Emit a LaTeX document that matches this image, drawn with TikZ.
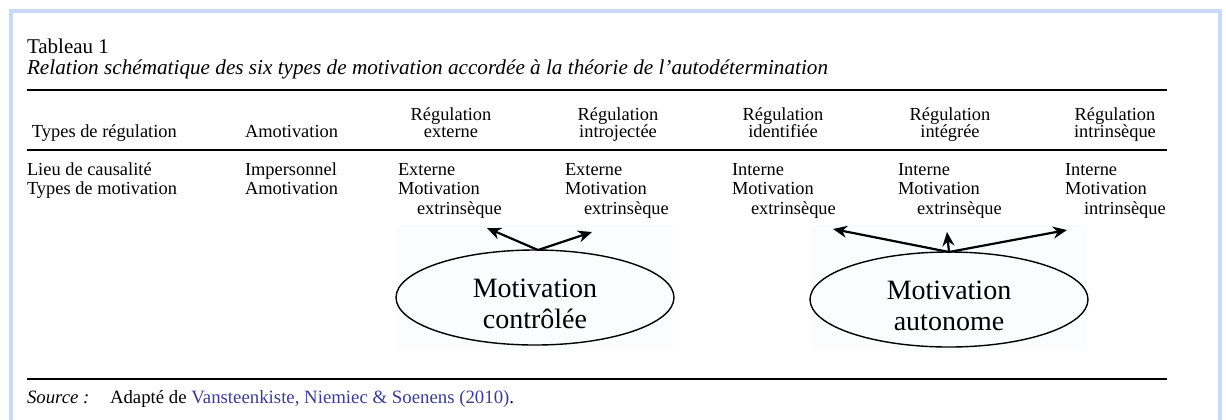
\documentclass[tikz,border=0pt]{standalone}
\usepackage{fontspec}
\setmainfont{Liberation Serif}
\usetikzlibrary{shapes.geometric,positioning,arrows.meta}

\definecolor{framecol}{RGB}{201,218,248}
\definecolor{linkcol}{RGB}{60,60,150}
\definecolor{imgbg}{RGB}{251,252,254}

\begin{document}
\begin{tikzpicture}[x=0.5pt,y=-0.5pt,
    every node/.style={inner sep=0pt,outer sep=0pt,font=\fontsize{9.2}{9.75}\selectfont},
    head/.style={anchor=base,align=center,font=\fontsize{9.2}{8.5}\selectfont},
    cell/.style={anchor=base west,align=left},
    motiv/.style={ellipse,draw,line width=0.7pt,minimum width=139pt,
        minimum height=47.5pt,align=center,text height=31pt,
        font=\fontsize{14}{15.5}\selectfont},
    arr/.style={-{Stealth[length=7pt,width=6pt]},line width=1.1pt}]

\useasboundingbox (0,0) rectangle (1226,419);

% Frame & backgrounds
\draw[framecol,line width=2pt] (11,425) -- (11,11) -- (1219.5,11) -- (1219.5,425);
\fill[imgbg] (397,225) rectangle (673,350);
\fill[imgbg] (812,225) rectangle (1087,350);

% Title
\node[  anchor=base west,
        font=\fontsize{10.5}{12}\selectfont
    ] (title) at (27,53) {Tableau 1};
\node[  anchor=base west,
        font=\fontsize{10.6}{12}\selectfont\itshape
    ] (caption) at (27,74) {Relation schématique des six types de motivation accordée à la théorie de l’autodétermination};

% Rules
\draw[line width=1.4pt] (27,90) -- (1167,90);
\draw[line width=1pt] (27,149.5) -- (1167,149.5);
\draw[line width=1pt] (27,378.5) -- (1167,378.5);

% Header row
\node[cell] (hTypes) at (32,137) {Types de régulation};
\node[cell] (hAmot) at (245,137) {Amotivation};
\node[head] (hExt) at (451,137) {Régulation\\externe};
\node[head] (hIntro) at (618,137) {Régulation\\introjectée};
\node[head] (hIdent) at (783,137) {Régulation\\identifiée};
\node[head] (hInteg) at (950,137) {Régulation\\intégrée};
\node[head] (hIntr) at (1115,137) {Régulation\\intrinsèque};

% Body rows
\node[cell] (bTypes) at (27,194.5) {Lieu de causalité\\Types de motivation};
\node[cell] (bAmot) at (245,194.5) {Impersonnel\\Amotivation};
\node[cell] (bExt) at (398,214) {Externe\\Motivation\\\hspace*{9.5pt}extrinsèque};
\node[cell] (bIntro) at (565,214) {Externe\\Motivation\\\hspace*{9.5pt}extrinsèque};
\node[cell] (bIdent) at (732,214) {Interne\\Motivation\\\hspace*{9.5pt}extrinsèque};
\node[cell] (bInteg) at (898,214) {Interne\\Motivation\\\hspace*{9.5pt}extrinsèque};
\node[cell] (bIntr) at (1065,214) {Interne\\Motivation\\\hspace*{9.5pt}intrinsèque};

% Ellipses
\node[motiv] (controlee) at (535,297.5) {Motivation\\contrôlée};
\node[motiv] (autonome) at (949,299.5) {Motivation\\autonome};

% Arrows
\coordinate (tipExt) at (487,228);
\coordinate (tipIntro) at (592,232);
\coordinate (tipIdent) at (833,229);
\coordinate (tipInteg) at (947,232);
\coordinate (tipIntr) at (1067,230);
\draw[arr] ([xshift=1.5pt]controlee.north) -- (tipExt);
\draw[arr] ([xshift=1.5pt]controlee.north) -- (tipIntro);
\draw[arr] (autonome.north) -- (tipIdent);
\draw[arr] (autonome.north) -- (tipInteg);
\draw[arr] (autonome.north) -- (tipIntr);

% Source
\node[  anchor=base west,
        font=\fontsize{9.4}{10}\selectfont\itshape
    ] (source) at (27,403) {Source :};
\node[  anchor=base west,
        font=\fontsize{9.4}{10}\selectfont
    ] (ref) at (110,403) {Adapté de \textcolor{linkcol}{Vansteenkiste, Niemiec \& Soenens (2010)}.};

\end{tikzpicture}
\end{document}
